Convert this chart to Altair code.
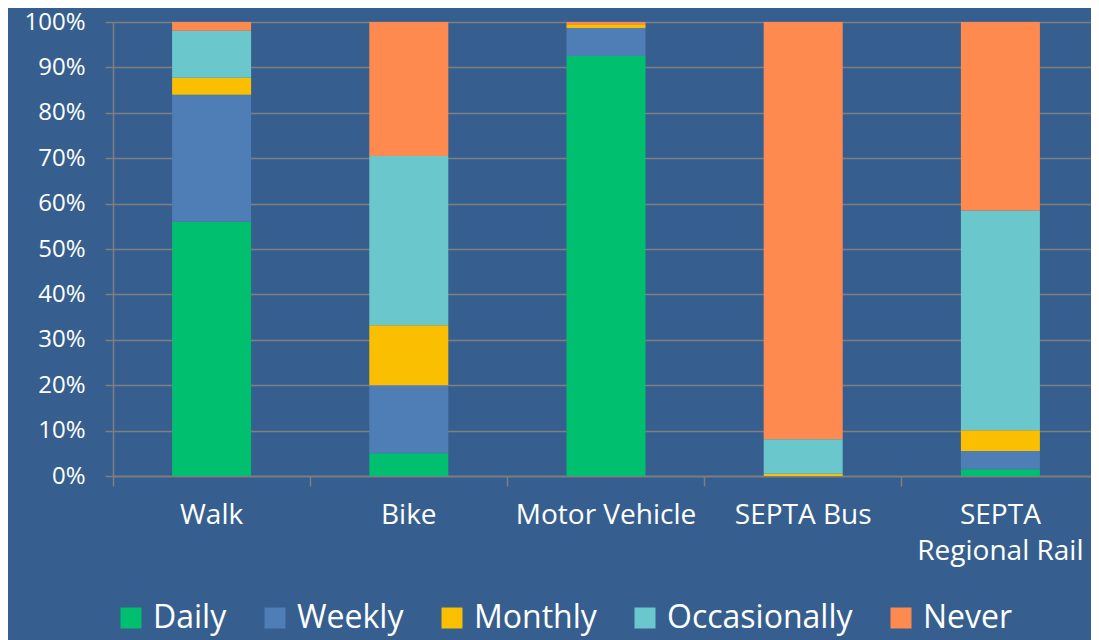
import altair as alt
import pandas as pd

categories = ["Walk", "Bike", "Motor Vehicle", "SEPTA Bus", "SEPTA Regional Rail"]
series = ["Daily", "Weekly", "Monthly", "Occasionally", "Never"]
daily = [56.0, 5.0, 92.5, 0.0, 1.5]
weekly = [28.0, 15.0, 6.2, 0.0, 4.0]
monthly = [3.7, 13.2, 0.8, 0.5, 4.6]
occasionally = [10.4, 37.3, 0.0, 7.6, 48.4]
never = [1.9, 29.5, 0.5, 91.9, 41.5]
colors = ["#00BF6F", "#4F7DB5", "#F9BF00", "#6AC8CC", "#FF8A4F"]

rows = []
for si, (s, vals) in enumerate(zip(series, [daily, weekly, monthly, occasionally, never])):
    for c, v in zip(categories, vals):
        rows.append({"mode": c, "freq": s, "value": v, "ord": si})
df = pd.DataFrame(rows)

font = "Open Sans"
grid = "#7F7F7F"

chart = alt.Chart(df).mark_bar(size=79).encode(
    x=alt.X("mode:N", sort=categories, title=None,
            scale=alt.Scale(paddingInner=0, paddingOuter=0, range=[0, 986]),
            axis=alt.Axis(bandPosition=0, labelAngle=0, tickSize=10, tickColor=grid,
                          domainColor=grid, domainWidth=1.5, tickWidth=1.5,
                          labelColor="white", labelFont=font, labelFontSize=28,
                          labelPadding=15, labelLineHeight=36, labelLimit=0,
                          labelExpr="datum.label == 'SEPTA Regional Rail' ? ['SEPTA', 'Regional Rail'] : datum.label")),
    y=alt.Y("value:Q", stack="zero", title=None,
            scale=alt.Scale(domain=[0, 100], nice=False),
            axis=alt.Axis(values=list(range(0, 101, 10)), labelExpr="datum.value + '%'",
                          tickSize=8, tickColor=grid, tickWidth=1.5, domainColor=grid, domainWidth=1.5,
                          gridColor=grid, gridWidth=1.5,
                          labelColor="white", labelFont=font, labelFontSize=24, labelPadding=20)),
    color=alt.Color("freq:N", sort=series, scale=alt.Scale(domain=series, range=colors),
                    legend=alt.Legend(title=None, orient="none", legendX=2, legendY=580,
                                      direction="horizontal", columns=5, symbolType="square",
                                      symbolSize=441, symbolStrokeWidth=0, labelFont=font,
                                      labelFontSize=32, labelColor="white", labelOffset=6,
                                      labelLimit=0, columnPadding=32)),
    order=alt.Order("ord:Q", sort="ascending"),
).properties(
    width=978, height=454,
    background="#365F8F",
    autosize=alt.AutoSizeParams(type="none"),
    padding={"left": 105, "top": 14, "right": 0, "bottom": 164},
).configure_view(stroke=None)

chart.save("out.html", embed_options={"renderer": "svg", "actions": False})
